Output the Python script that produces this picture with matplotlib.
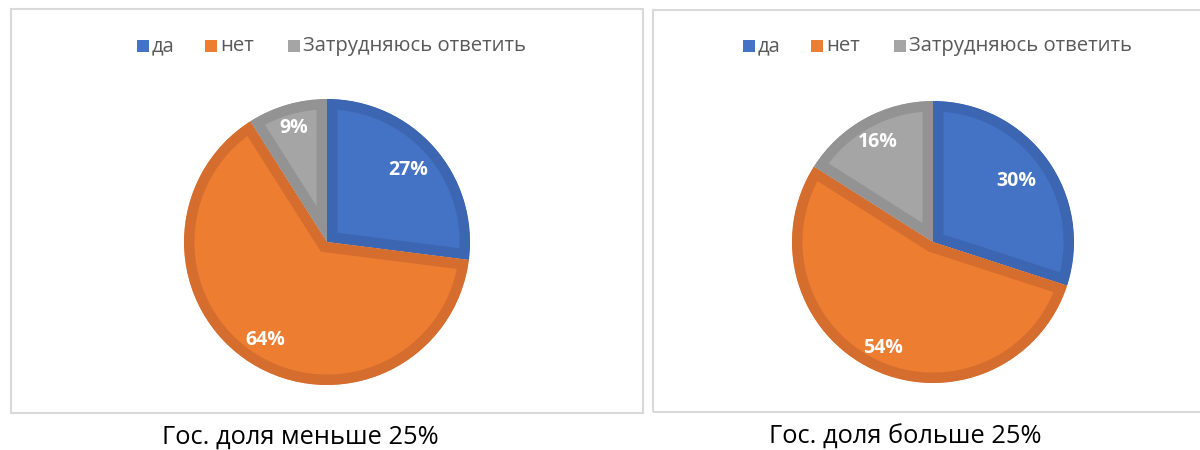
import matplotlib
matplotlib.use("Agg")
import matplotlib.pyplot as plt
from matplotlib.patches import Rectangle
import numpy as np

plt.rcParams['font.family'] = ['Open Sans', 'DejaVu Sans']

# data
categories = ['да', 'нет', 'Затрудняюсь ответить']
values_less = [27, 64, 9]
values_more = [30, 54, 16]
captions = ['Гос. доля меньше 25%', 'Гос. доля больше 25%']

fills = ['#4472C4', '#ED7D31', '#A5A5A5']
edges = ['#3C66B2', '#D46D2D', '#939393']

W, H = 1200, 450
fig = plt.figure(figsize=(W / 100, H / 100), dpi=100)


def px_box(x0, y0, x1, y1):
    # pixel box (top-left origin) -> figure fraction rect
    return [x0 / W, 1 - y1 / H, (x1 - x0) / W, (y1 - y0) / H]


def draw_panel(box, center, radius, values, label_r, legend_x, caption_x, caption):
    l, b, w, h = px_box(*box)
    fig.patches.append(Rectangle((l, b), w, h, transform=fig.transFigure,
                                 facecolor='none', edgecolor='#d9d9d9',
                                 linewidth=1.5, zorder=-1))

    cx, cy = center
    half = 160
    ax = fig.add_axes(px_box(cx - half, cy - half, cx + half, cy + half))
    ax.patch.set_alpha(0)
    ax.axis('off')

    wedges, _ = ax.pie(values, colors=fills, startangle=90, counterclock=False,
                       radius=1.0, wedgeprops=dict(linewidth=0))
    # inner border: thick stroke clipped to the wedge itself
    for wd, ec in zip(wedges, edges):
        wd.set_edgecolor(ec)
        wd.set_linewidth(15)
        wd.set_clip_path(wd)
        wd.set_clip_on(True)
    lim = half / radius
    ax.set_xlim(-lim, lim)
    ax.set_ylim(-lim, lim)
    ax.set_aspect('equal')

    total = sum(values)
    start = 90.0
    for v, r in zip(values, label_r):
        span = v / total * 360
        mid = np.deg2rad(start - span / 2)
        ax.text(r * np.cos(mid), r * np.sin(mid), f'{v}%', color='white',
                fontsize=14, fontweight='bold', ha='center', va='center')
        start -= span

    # legend
    ly = 1 - 46 / H
    sq = 12
    offsets = [0, 68, 151]
    for i, (name, col) in enumerate(zip(categories, fills)):
        x = (legend_x + offsets[i]) / W
        fig.patches.append(Rectangle((x, ly - sq / 2 / H), sq / W, sq / H,
                                     transform=fig.transFigure, facecolor=col,
                                     edgecolor='none'))
        fig.text(x + (sq + 3) / W, ly, name, fontsize=14.6, color='#595959',
                 ha='left', va='center')

    fig.text(caption_x / W, 1 - 437 / H, caption, fontsize=18.3, color='black',
             ha='center', va='center')


draw_panel((11, 9, 643, 413), (327, 242), 143, values_less, [0.76, 0.81, 0.83],
           137, 300, captions[0])
draw_panel((653, 10, 1210, 412), (933, 242), 141, values_more, [0.73, 0.83, 0.81],
           743, 905, captions[1])

fig.savefig('out.png', dpi=100)
